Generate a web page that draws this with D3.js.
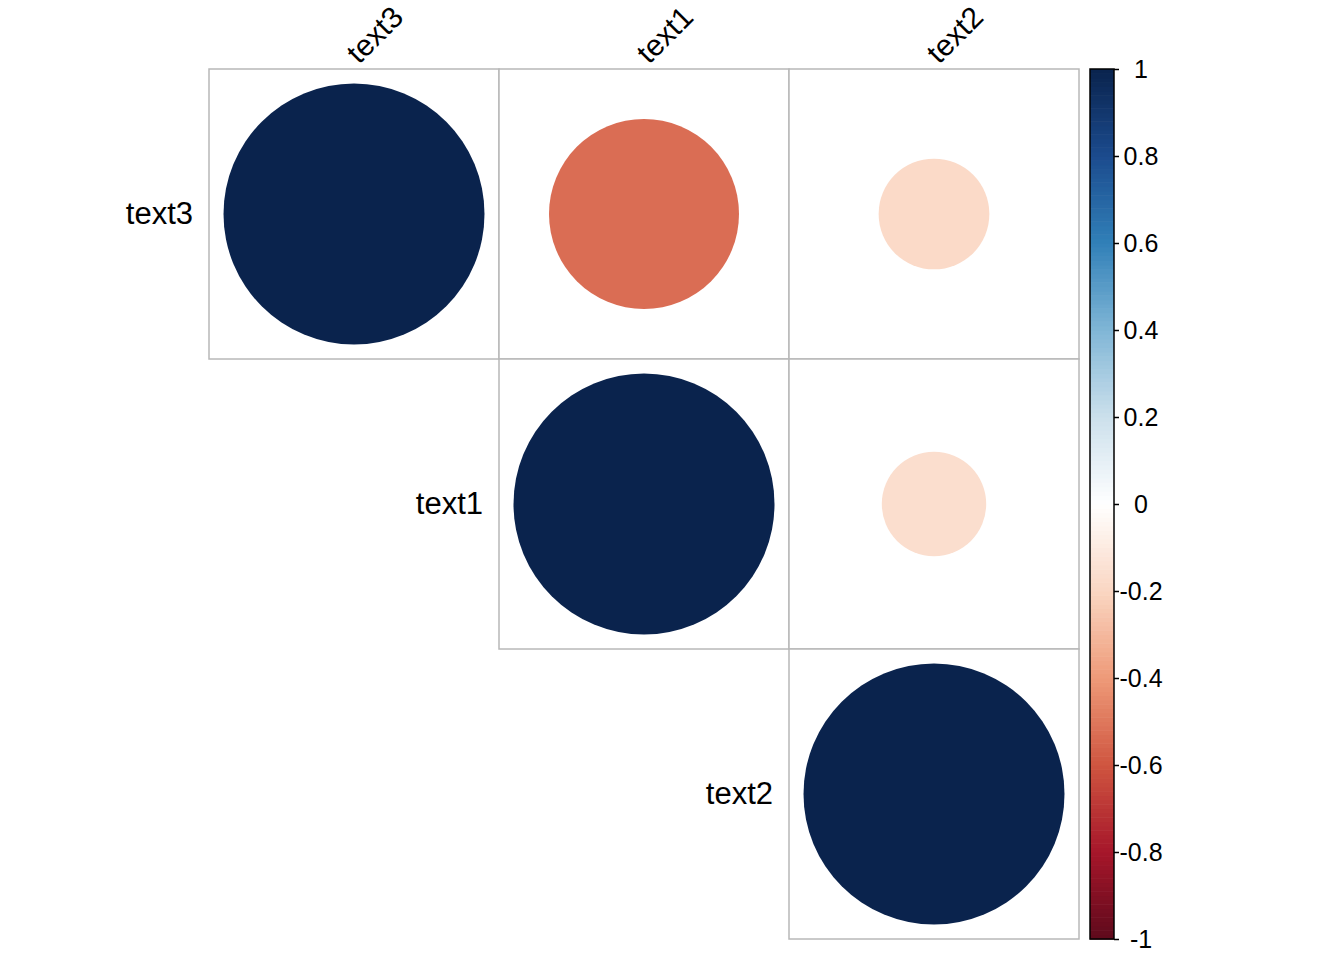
<!DOCTYPE html>
<html>
<head>
<meta charset="utf-8">
<script src="https://cdn.jsdelivr.net/npm/d3@7"></script>
<style>
  body { margin: 0; background: #fff; }
  text { font-family: "Liberation Sans", Arial, sans-serif; }
</style>
</head>
<body>
<div class="viz"></div>
<script>
// correlation matrix (upper triangle shown)
const vars = ["text3", "text1", "text2"]
const corr = [
  [1, -0.53, -0.18],
  [-0.53, 1, -0.16],
  [-0.18, -0.16, 1]
]
const legendTicks = [-1, -0.8, -0.6, -0.4, -0.2, 0, 0.2, 0.4, 0.6, 0.8, 1]
// RdBu ramp, -1 .. 1
const paletteStops = ["#5E0A1C", "#A6162A", "#CF5540", "#EE9A78", "#FAD6C2", "#FFFFFF",
  "#CCE0EC", "#80B6D6", "#3180B8", "#1B4B8E", "#0A234D"]

const w = 1344, h = 960
const gridLeft = 209, gridTop = 69, gridSize = 870

const svg = d3.select(".viz").append("svg")
  .attr("width", w).attr("height", h)

const x = d3.scaleBand().domain(vars).range([gridLeft, gridLeft + gridSize])
const y = d3.scaleBand().domain(vars).range([gridTop, gridTop + gridSize])
const cw = x.bandwidth()

const color = d3.scaleLinear()
  .domain(d3.range(-1, 1.0001, 0.2))
  .range(paletteStops)
  .interpolate(d3.interpolateRgb)

const cells = []
vars.forEach((r, i) => vars.forEach((c, j) => {
  if (j >= i) cells.push({ row: r, col: c, v: corr[i][j] })
}))

// grid
svg.selectAll("rect.cell").data(cells).enter().append("rect")
  .attr("class", "cell")
  .attr("x", d => x(d.col)).attr("y", d => y(d.row))
  .attr("width", cw).attr("height", cw)
  .attr("fill", "white").attr("stroke", "#B8B8B8").attr("stroke-width", 1.5)

// circles, radius ~ sqrt(|r|)
svg.selectAll("circle").data(cells).enter().append("circle")
  .attr("cx", d => x(d.col) + cw / 2)
  .attr("cy", d => y(d.row) + cw / 2)
  .attr("r", d => 0.45 * Math.sqrt(Math.abs(d.v)) * cw)
  .attr("fill", d => color(d.v))

// column labels
svg.selectAll("text.col").data(vars).enter().append("text")
  .attr("class", "col")
  .attr("transform", d => `translate(${x(d) + cw / 2 + 5},${gridTop - 4}) rotate(-45)`)
  .attr("font-size", 30)
  .text(d => d)

// row labels
svg.selectAll("text.row").data(vars).enter().append("text")
  .attr("class", "row")
  .attr("x", d => x(d) - 16)
  .attr("y", d => y(d) + cw / 2)
  .attr("dy", "0.33em")
  .attr("text-anchor", "end")
  .attr("font-size", 31)
  .text(d => d)

// colour legend
const lx = 1090, lw = 24
const ly = d3.scaleLinear().domain([-1, 1]).range([gridTop + gridSize, gridTop])
const n = 200
const steps = d3.range(n).map(k => -1 + (k + 0.5) * 2 / n)
svg.selectAll("rect.leg").data(steps).enter().append("rect")
  .attr("class", "leg")
  .attr("x", lx)
  .attr("y", d => ly(d + 1 / n))
  .attr("width", lw)
  .attr("height", gridSize / n + 0.6)
  .attr("fill", d => color(d))
svg.append("rect")
  .attr("x", lx).attr("y", gridTop).attr("width", lw).attr("height", gridSize)
  .attr("fill", "none").attr("stroke", "black").attr("stroke-width", 1.5)

const axis = d3.axisRight(ly).tickValues(legendTicks)
  .tickSize(5).tickPadding(0)
  .tickFormat(d => String(+d.toFixed(1)))
const ag = svg.append("g").attr("transform", `translate(${lx + lw},0)`).call(axis)
ag.select(".domain").remove()
ag.selectAll("line").attr("stroke", "black").attr("stroke-width", 1.5)
ag.selectAll("text").attr("font-size", 25).attr("fill", "black")
  .attr("x", 27).attr("text-anchor", "middle").attr("dy", "0.35em")
  .attr("font-family", "Liberation Sans, Arial, sans-serif")
</script>
</body>
</html>
